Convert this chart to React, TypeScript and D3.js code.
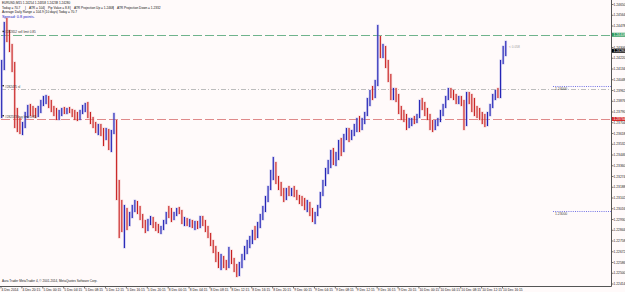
import React from 'react';
import * as d3 from 'd3';

const W = 625;
const H = 292;

// 30-minute OHLC bars, EURUSD, 4 Dec 2014 16:15 .. 10 Dec 2014 ~17:00 (server time)
const opens = [
1.23806,1.24190,1.24462,1.24398,1.24302,1.24142,1.23726,1.23678,1.23646,1.23686,
1.23766,1.23822,1.23790,1.23774,1.23766,1.23806,1.23870,1.23894,1.23902,1.23854,
1.23806,1.23782,1.23750,1.23790,1.23806,1.23790,1.23814,1.23798,1.23766,1.23750,
1.23742,1.23790,1.23830,1.23838,1.23766,1.23726,1.23678,1.23646,1.23662,1.23630,
1.23614,1.23638,1.23518,1.23630,1.23710,1.23118,1.23006,1.22886,1.22990,1.22894,
1.22974,1.23030,1.23054,1.23006,1.22950,1.22886,1.22854,1.22910,1.22934,1.22878,
1.22862,1.22846,1.22862,1.22910,1.22974,1.22958,1.22942,1.22974,1.23006,1.22990,
1.22918,1.22926,1.22894,1.22910,1.22886,1.22902,1.22878,1.22942,1.22902,1.22846,
1.22798,1.22734,1.22686,1.22622,1.22590,1.22622,1.22574,1.22558,1.22670,1.22590,
1.22542,1.22510,1.22574,1.22638,1.22686,1.22734,1.22766,1.22830,1.22798,1.22886,
1.22958,1.23022,1.23102,1.23182,1.23294,1.23358,1.23246,1.23198,1.23150,1.23102,
1.23166,1.23150,1.23166,1.23134,1.23102,1.23078,1.23054,1.23038,1.23054,1.22990,
1.22942,1.22974,1.23038,1.23134,1.23230,1.23326,1.23374,1.23454,1.23406,1.23422,
1.23534,1.23486,1.23598,1.23630,1.23582,1.23630,1.23662,1.23710,1.23662,1.23726,
1.23774,1.23870,1.23934,1.23918,1.24014,1.24366,1.24254,1.24302,1.24174,1.24062,
1.23918,1.23966,1.23902,1.23806,1.23774,1.23742,1.23678,1.23710,1.23726,1.23718,
1.23758,1.23854,1.23838,1.23790,1.23742,1.23678,1.23662,1.23710,1.23726,1.23790,
1.23838,1.23902,1.23966,1.23934,1.23918,1.23886,1.23902,1.23854,1.23694,1.23918,
1.23886,1.23822,1.23790,1.23774,1.23758,1.23726,1.23694,1.23774,1.23838,1.23918,
1.23950,1.23918,1.24190,1.24254
];

const highs = [
1.24206,1.24510,1.24542,1.24446,1.24334,1.24190,1.23822,1.23742,1.23710,1.23790,
1.23846,1.23854,1.23838,1.23822,1.23838,1.23886,1.23918,1.23926,1.23918,1.23886,
1.23838,1.23822,1.23806,1.23822,1.23830,1.23822,1.23830,1.23814,1.23806,1.23790,
1.23806,1.23846,1.23862,1.23870,1.23790,1.23750,1.23710,1.23694,1.23694,1.23662,
1.23662,1.23654,1.23646,1.23782,1.23726,1.23246,1.23086,1.23046,1.23022,1.22990,
1.23046,1.23086,1.23078,1.23038,1.22974,1.22926,1.22934,1.22958,1.22950,1.22910,
1.22894,1.22878,1.22926,1.22990,1.23038,1.23022,1.22990,1.23022,1.23030,1.23006,
1.22950,1.22942,1.22934,1.22926,1.22918,1.22918,1.22958,1.22958,1.22926,1.22878,
1.22822,1.22766,1.22718,1.22670,1.22654,1.22638,1.22606,1.22710,1.22686,1.22622,
1.22574,1.22590,1.22654,1.22718,1.22766,1.22798,1.22846,1.22878,1.22910,1.22974,
1.23038,1.23118,1.23198,1.23326,1.23430,1.23390,1.23278,1.23230,1.23182,1.23182,
1.23198,1.23182,1.23198,1.23166,1.23126,1.23118,1.23102,1.23086,1.23070,1.23022,
1.22990,1.23046,1.23150,1.23246,1.23342,1.23406,1.23486,1.23502,1.23470,1.23566,
1.23582,1.23614,1.23662,1.23662,1.23646,1.23694,1.23742,1.23758,1.23742,1.23790,
1.23902,1.23966,1.23998,1.24046,1.24486,1.24398,1.24334,1.24318,1.24206,1.24094,
1.23982,1.23982,1.23934,1.23838,1.23806,1.23774,1.23742,1.23742,1.23758,1.23774,
1.23886,1.23902,1.23870,1.23822,1.23774,1.23726,1.23726,1.23742,1.23806,1.23854,
1.23918,1.23982,1.23982,1.23966,1.23934,1.23918,1.23918,1.23886,1.23950,1.23950,
1.23934,1.23902,1.23838,1.23822,1.23790,1.23774,1.23790,1.23854,1.23934,1.23966,
1.23982,1.24206,1.24318,1.24358
];

const lows = [
1.23742,1.24126,1.24350,1.24270,1.24110,1.23662,1.23630,1.23614,1.23606,1.23662,
1.23742,1.23758,1.23750,1.23742,1.23750,1.23782,1.23838,1.23854,1.23822,1.23790,
1.23758,1.23726,1.23726,1.23758,1.23774,1.23774,1.23782,1.23750,1.23726,1.23718,
1.23726,1.23774,1.23790,1.23742,1.23694,1.23662,1.23622,1.23606,1.23598,1.23518,
1.23566,1.23486,1.23470,1.23614,1.23086,1.22782,1.22830,1.22702,1.22846,1.22878,
1.22942,1.22990,1.22974,1.22926,1.22862,1.22822,1.22838,1.22886,1.22862,1.22838,
1.22822,1.22814,1.22846,1.22894,1.22942,1.22910,1.22926,1.22958,1.22974,1.22894,
1.22878,1.22878,1.22870,1.22862,1.22846,1.22854,1.22862,1.22878,1.22830,1.22782,
1.22718,1.22662,1.22590,1.22542,1.22526,1.22542,1.22526,1.22542,1.22574,1.22510,
1.22470,1.22478,1.22542,1.22606,1.22654,1.22702,1.22734,1.22766,1.22782,1.22862,
1.22926,1.22990,1.23070,1.23166,1.23246,1.23214,1.23166,1.23118,1.23070,1.23086,
1.23118,1.23118,1.23110,1.23086,1.23054,1.23038,1.23006,1.22990,1.22958,1.22910,
1.22894,1.22958,1.23022,1.23118,1.23198,1.23294,1.23342,1.23366,1.23358,1.23406,
1.23438,1.23470,1.23566,1.23550,1.23566,1.23598,1.23630,1.23630,1.23646,1.23694,
1.23758,1.23838,1.23886,1.23902,1.23998,1.24222,1.24222,1.24142,1.24030,1.23886,
1.23886,1.23870,1.23774,1.23726,1.23710,1.23646,1.23662,1.23678,1.23694,1.23702,
1.23742,1.23806,1.23758,1.23726,1.23646,1.23630,1.23646,1.23678,1.23710,1.23758,
1.23822,1.23886,1.23902,1.23886,1.23854,1.23854,1.23838,1.23646,1.23678,1.23854,
1.23790,1.23758,1.23742,1.23726,1.23694,1.23670,1.23678,1.23758,1.23822,1.23886,
1.23902,1.23902,1.24174,1.24238
];

const closes = [
1.24190,1.24462,1.24398,1.24302,1.24142,1.23726,1.23678,1.23646,1.23686,1.23766,
1.23822,1.23790,1.23774,1.23766,1.23806,1.23870,1.23894,1.23902,1.23854,1.23806,
1.23782,1.23750,1.23790,1.23806,1.23790,1.23814,1.23798,1.23766,1.23750,1.23742,
1.23790,1.23830,1.23838,1.23766,1.23726,1.23678,1.23646,1.23662,1.23630,1.23614,
1.23638,1.23518,1.23630,1.23710,1.23118,1.23006,1.22886,1.22990,1.22894,1.22974,
1.23030,1.23054,1.23006,1.22950,1.22886,1.22854,1.22910,1.22934,1.22878,1.22862,
1.22846,1.22862,1.22910,1.22974,1.22958,1.22942,1.22974,1.23006,1.22990,1.22918,
1.22926,1.22894,1.22910,1.22886,1.22902,1.22878,1.22942,1.22902,1.22846,1.22798,
1.22734,1.22686,1.22622,1.22590,1.22622,1.22574,1.22558,1.22670,1.22590,1.22542,
1.22510,1.22574,1.22638,1.22686,1.22734,1.22766,1.22830,1.22798,1.22886,1.22958,
1.23022,1.23102,1.23182,1.23294,1.23358,1.23246,1.23198,1.23150,1.23102,1.23166,
1.23150,1.23166,1.23134,1.23102,1.23078,1.23054,1.23038,1.23054,1.22990,1.22942,
1.22974,1.23038,1.23134,1.23230,1.23326,1.23374,1.23454,1.23406,1.23422,1.23534,
1.23486,1.23598,1.23630,1.23582,1.23630,1.23662,1.23710,1.23662,1.23726,1.23774,
1.23870,1.23934,1.23918,1.24014,1.24366,1.24254,1.24302,1.24174,1.24062,1.23918,
1.23966,1.23902,1.23806,1.23774,1.23742,1.23678,1.23710,1.23726,1.23718,1.23758,
1.23854,1.23838,1.23790,1.23742,1.23678,1.23662,1.23710,1.23726,1.23790,1.23838,
1.23902,1.23966,1.23934,1.23918,1.23886,1.23902,1.23854,1.23694,1.23918,1.23886,
1.23822,1.23790,1.23774,1.23758,1.23726,1.23694,1.23774,1.23838,1.23918,1.23950,
1.23918,1.24190,1.24254,1.24280
];

const timeLabels = [
  '4 Dec 2014', '4 Dec 20:15', '5 Dec 00:15', '5 Dec 04:15', '5 Dec 08:15',
  '5 Dec 12:15', '5 Dec 16:15', '5 Dec 20:15', '8 Dec 00:15', '8 Dec 04:15',
  '8 Dec 08:15', '8 Dec 12:15', '8 Dec 16:15', '8 Dec 20:15', '9 Dec 00:15',
  '9 Dec 04:15', '9 Dec 08:15', '9 Dec 12:15', '9 Dec 16:15', '9 Dec 20:15',
  '10 Dec 00:15', '10 Dec 04:15', '10 Dec 08:15', '10 Dec 12:15', '10 Dec 16:15'
];

const priceTicks = [
  1.24650, 1.24564, 1.24478, 1.24392, 1.24306, 1.24220, 1.24134, 1.24048, 1.23962,
  1.23876, 1.23790, 1.23704, 1.23618, 1.23532, 1.23446, 1.23360, 1.23274, 1.23188,
  1.23102, 1.23016, 1.22930, 1.22844, 1.22758, 1.22672, 1.22586, 1.22500, 1.22414
];

const orderLevels = [
  { price: 1.24408, label: '#282652 sell limit 0.85', color: '#6fb38c', dash: '9,3', tag: '#2f9a5c' },
  { price: 1.23974, label: '#282475 sl', color: '#bdbdbd', dash: '5,2,1,2', tag: null },
  { price: 1.23734, label: '#282573 buy limit 0.85', color: '#df8a8a', dash: '9,3', tag: '#d62a2a' }
];
const roundLevels = [1.24000, 1.23000];
const bid = 1.24280;

const headerLine1 = 'EURUSD,M15  1.24254  1.24358  1.24238  1.24280';
const headerLine2 = ['Today = 70.7', '|', 'ATR = 104', '|', 'Pip Value = 8.8', '|', 'ATR Projection Up = 1.2468', '|', 'ATR Projection Down = 1.2332'];
const headerLine3 = 'Average Daily Range = 104.9 (10 days)   Today = 70.7';
const spreadText = 'Spread: 0.8 points.';
const copyright = 'Aura Trader MetaTrader 4, \u00A9 2001-2014, MetaQuotes Software Corp.';

const FONT = "'Liberation Sans', Arial, sans-serif";

export default function App() {
  const plotL = 1, plotR = 611, plotT = 2, plotB = 286;
  const n15 = 387; // 15-minute slots on the time axis
  const x = d3.scaleLinear().domain([0, n15]).range([plotL, plotL + n15 * 1.306]);
  const y = d3.scaleLinear().domain([1.22398, 1.24670]).range([plotB, plotT]);

  const n = Math.min(opens.length, highs.length, lows.length, closes.length);
  const bars = d3.range(n).map(i => ({
    i, o: opens[i], h: highs[i], l: lows[i], c: closes[i], up: closes[i] >= opens[i]
  }));
  const bx = (i: number) => x(2 * i + 0.5);

  const seg2X = [2, 25, 29, 44, 48, 70, 74, 113, 117];

  const tagPrices = [...orderLevels.filter(lv => lv.tag).map(lv => lv.price), bid];
  const visibleTicks = priceTicks.filter(v => tagPrices.every(p => Math.abs(y(p) - y(v)) > 3.2));

  return (
    <svg width={W} height={H} style={{ position: 'absolute', left: 0, top: 0, display: 'block' }} fontFamily={FONT}>
      <rect x={0} y={0} width={W} height={H} fill="#fffafa" />

      {/* horizontal level lines */}
      {orderLevels.map((lv, k) => (
        <line key={'ol' + k} x1={plotL} x2={plotR} y1={Math.round(y(lv.price)) + 0.5} y2={Math.round(y(lv.price)) + 0.5}
          stroke={lv.color} strokeWidth={1} strokeDasharray={lv.dash} />
      ))}
      {roundLevels.map((v, k) => (
        <g key={'rl' + k}>
          <line x1={553} x2={plotR} y1={Math.round(y(v)) + 0.5} y2={Math.round(y(v)) + 0.5}
            stroke="#7373e6" strokeWidth={1} strokeDasharray="1,1.2" />
          <text x={555} y={y(v) + 4.6} fontSize={3.4} fill="#444">{v.toFixed(5)}</text>
        </g>
      ))}

      {/* bars */}
      <g>
        {bars.map(b => (
          <line key={'h' + b.i} x1={bx(b.i)} x2={bx(b.i)} y1={y(b.h) - 0.5} y2={y(b.l) + 0.5}
            stroke={b.up ? '#9a9ae6' : '#eeaaaa'} strokeWidth={2.6} strokeOpacity={0.5} />
        ))}
        {bars.map(b => (
          <line key={'c' + b.i} x1={bx(b.i)} x2={bx(b.i)} y1={y(b.h)} y2={y(b.l)}
            stroke={b.up ? '#2222b4' : '#c82020'} strokeWidth={1.05} />
        ))}
      </g>

      {/* order level labels */}
      {orderLevels.map((lv, k) => (
        <g key={'olt' + k}>
          <rect x={2.5} y={y(lv.price) - 4} width={1.4} height={1.4} fill="#222" />
          <text x={5} y={y(lv.price) - 1.4} fontSize={3.1} fill="#333">{lv.label}</text>
        </g>
      ))}
      <text x={509} y={y(bid) - 2.5} fontSize={3.2} fill="#a0a0a0">{'< 0.058'}</text>

      {/* header */}
      <text x={2} y={4.2} fontSize={3.1} fill="#111">{headerLine1}</text>
      {headerLine2.map((s, k) => (
        <text key={'h2' + k} x={seg2X[k]} y={8.6} fontSize={3.2} fill="#111">{s}</text>
      ))}
      <text x={2} y={13} fontSize={3.2} fill="#111">{headerLine3}</text>
      <text x={2} y={17.6} fontSize={3.9} fill="#2020c8">{spreadText}</text>
      <text x={2} y={281.5} fontSize={3.1} fill="#222">{copyright}</text>

      {/* axes */}
      <line x1={plotR + 0.5} x2={plotR + 0.5} y1={0} y2={plotB + 0.5} stroke="#555" strokeWidth={1} />
      <line x1={0} x2={plotR + 0.5} y1={plotB + 0.5} y2={plotB + 0.5} stroke="#555" strokeWidth={1} />

      {visibleTicks.map((v, k) => (
        <g key={'pt' + k}>
          <line x1={plotR} x2={plotR + 2.5} y1={y(v)} y2={y(v)} stroke="#555" strokeWidth={0.8} />
          <text x={613.5} y={y(v) + 1.2} fontSize={3.3} fill="#222">{v.toFixed(5)}</text>
        </g>
      ))}

      {orderLevels.filter(lv => lv.tag).map((lv, k) => (
        <g key={'tag' + k}>
          <rect x={plotR + 1} y={y(lv.price) - 2} width={13} height={4} fill={lv.tag as string} />
          <text x={613.5} y={y(lv.price) + 1.2} fontSize={3.3} fill="#fff">{lv.price.toFixed(5)}</text>
        </g>
      ))}
      <rect x={plotR + 1} y={y(bid) - 2} width={13} height={4} fill="#000" />
      <text x={613.5} y={y(bid) + 1.2} fontSize={3.3} fill="#fff">{bid.toFixed(5)}</text>

      {timeLabels.map((t, k) => (
        <g key={'tl' + k}>
          <line x1={x(16 * k)} x2={x(16 * k)} y1={plotB} y2={plotB + 2.5} stroke="#555" strokeWidth={0.8} />
          <text x={x(16 * k) + 0.6} y={290.6} fontSize={3.3} fill="#222">{t}</text>
        </g>
      ))}
    </svg>
  );
}
